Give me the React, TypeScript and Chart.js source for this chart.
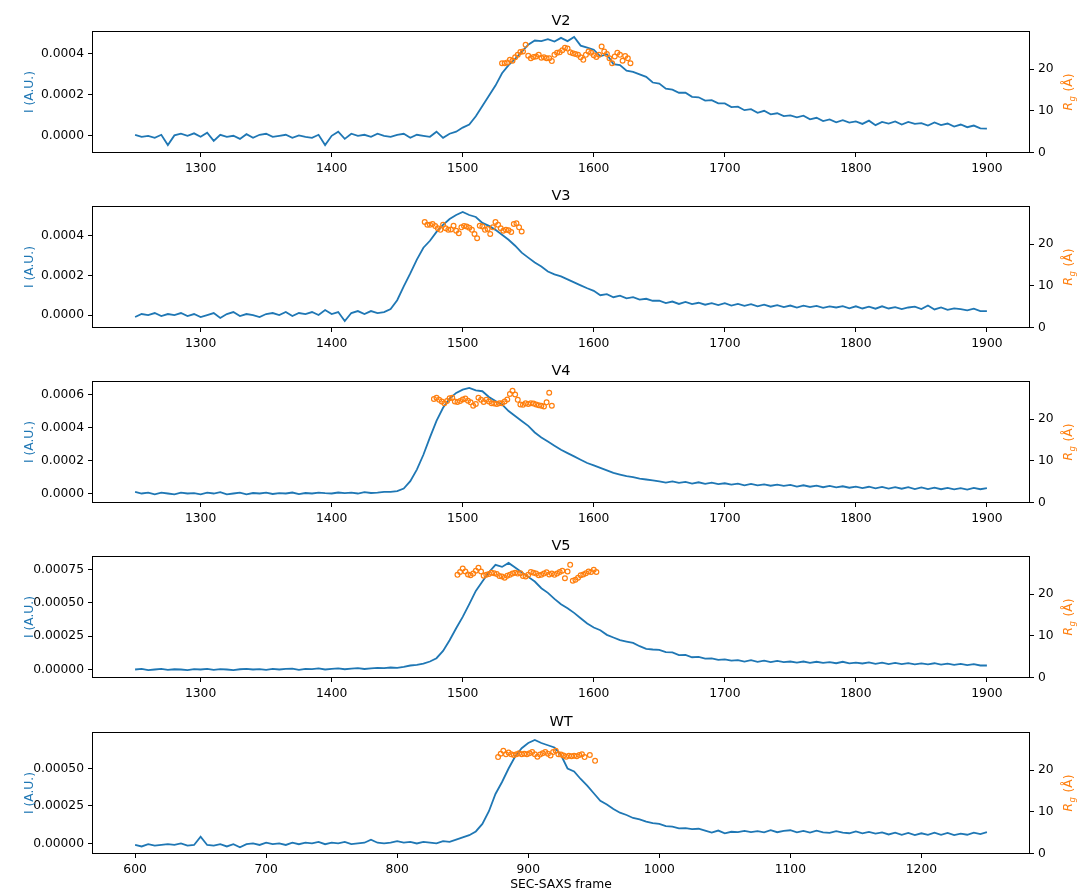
import React, { useEffect, useRef } from "react";
import { Chart, registerables } from "chart.js";

Chart.register(...registerables);

const BLUE = "#1f77b4";
const ORANGE = "#ff7f0e";
const FONT = "'DejaVu Sans', sans-serif";

// ---------- data (intensity in units of 1e-4 A.U., Rg in Å) ----------
const I_STEP = 5; // frames between intensity samples
const RG_STEP = 2; // frames between Rg samples

const v2Start = 1250;
const v2Intensity = [
  0.05, -0.05, 0.0, -0.1, 0.05, -0.45, 0.02, 0.1, 0.0, 0.12,
  -0.05, 0.15, -0.25, 0.05, -0.05, 0.0, -0.15, 0.08, -0.1, 0.05,
  0.1, -0.05, 0.0, 0.05, -0.1, 0.02, -0.05, -0.1, 0.05, -0.45,
  0.0, 0.2, -0.15, 0.1, 0.0, 0.05, -0.05, 0.1, 0.0, -0.05,
  0.05, 0.1, -0.1, 0.05, 0.0, -0.05, 0.2, -0.1, 0.1, 0.2,
  0.4, 0.55, 0.95, 1.45, 1.95, 2.45, 3.05, 3.45, 3.75, 4.1,
  4.45, 4.65, 4.62, 4.72, 4.6, 4.78, 4.62, 4.82, 4.4, 4.3,
  4.2, 3.88, 3.98, 3.5, 3.45, 3.18, 3.12, 3.0, 2.88, 2.6,
  2.55, 2.3, 2.25, 2.1, 2.1, 1.9, 1.88, 1.72, 1.74, 1.58,
  1.58, 1.4, 1.42, 1.25, 1.3, 1.12, 1.22, 1.05, 1.1, 0.96,
  1.0, 0.9, 0.98, 0.8, 0.88, 0.72, 0.8, 0.66, 0.76, 0.64,
  0.7, 0.58, 0.74, 0.52, 0.68, 0.6, 0.7, 0.55, 0.68, 0.58,
  0.62, 0.5, 0.65, 0.52, 0.6, 0.45, 0.55, 0.42, 0.5, 0.36,
  0.35,
];
const v2RgStart = 1530;
const v2Rg = [
  21.4, 21.4, 21.6, 22.2, 22.0, 22.8, 23.4, 24.1, 24.2, 25.8,
  23.2, 22.6, 22.9, 23.0, 23.4, 22.7, 22.8, 22.6, 22.6, 21.9,
  23.4, 23.9, 24.0, 24.5, 25.1, 24.9, 24.0, 23.8, 23.6, 23.4,
  22.8, 22.2, 23.4, 24.2, 23.9, 23.3, 22.9, 23.4, 25.4, 24.2,
  23.6, 22.6, 21.4, 23.0, 23.9, 23.4, 22.0, 23.1, 22.6, 21.4,
];

const v3Start = 1250;
const v3Intensity = [
  -0.1, 0.05, 0.0, 0.1, -0.05, 0.05, 0.0, 0.1, -0.05, 0.05,
  -0.1, 0.0, 0.1, -0.15, 0.05, 0.15, -0.05, 0.05, 0.0, -0.1,
  0.05, 0.1, 0.0, 0.15, -0.05, 0.1, 0.05, 0.15, 0.0, 0.25,
  0.05, 0.15, -0.3, 0.1, 0.2, 0.05, 0.2, 0.1, 0.15, 0.3,
  0.75, 1.45, 2.1, 2.8, 3.4, 3.75, 4.2, 4.55, 4.85, 5.05,
  5.2, 5.05, 4.95, 4.65, 4.5, 4.3, 4.05, 3.8, 3.5, 3.15,
  2.9, 2.65, 2.45, 2.2, 2.05, 1.95, 1.8, 1.65, 1.5, 1.35,
  1.22, 1.0, 1.05, 0.9, 0.98, 0.84, 0.9, 0.78, 0.82, 0.72,
  0.72, 0.6, 0.68, 0.56, 0.66, 0.55, 0.62, 0.52, 0.6, 0.5,
  0.6, 0.48, 0.56, 0.46, 0.55, 0.44, 0.52, 0.42, 0.5, 0.4,
  0.48, 0.38, 0.47, 0.4, 0.46, 0.36, 0.44, 0.38, 0.45, 0.34,
  0.44, 0.33, 0.42, 0.32, 0.44, 0.33, 0.4, 0.3, 0.38, 0.42,
  0.3, 0.48, 0.28, 0.38, 0.26, 0.34, 0.3, 0.24, 0.32, 0.2,
  0.2,
];
const v3RgStart = 1471;
const v3Rg = [
  25.3, 24.6, 24.6, 24.8, 24.3, 23.8, 23.4, 24.6, 23.8, 23.4,
  23.5, 24.4, 23.2, 22.6, 24.0, 24.3, 24.2, 23.9, 23.4, 22.4,
  21.4, 24.4, 24.2, 23.4, 23.6, 22.4, 24.0, 25.3, 24.6, 23.8,
  23.2, 23.4, 23.3, 22.9, 24.8, 25.0, 24.0, 23.0,
];

const v4Start = 1250;
const v4Intensity = [
  0.1, 0.0, 0.05, -0.05, 0.05, 0.0, -0.05, 0.05, 0.0, 0.02,
  -0.05, 0.05, 0.0, 0.08, -0.05, 0.0, 0.05, -0.05, 0.03, 0.0,
  0.05, -0.03, 0.02, 0.0, 0.06, -0.04, 0.03, 0.0, 0.05, 0.02,
  0.0, 0.06, 0.02, 0.05, 0.0, 0.08, 0.03, 0.05, 0.1, 0.1,
  0.15, 0.3, 0.75, 1.45, 2.35, 3.4, 4.4, 5.2, 5.75, 6.1,
  6.3, 6.4, 6.25, 6.2, 5.85, 5.6, 5.4, 5.0, 4.7, 4.4,
  4.1, 3.7, 3.4, 3.15, 2.9, 2.65, 2.45, 2.25, 2.05, 1.85,
  1.7, 1.55, 1.4, 1.25, 1.15, 1.05, 1.0, 0.9, 0.85, 0.8,
  0.74, 0.66, 0.74, 0.64, 0.7, 0.6, 0.68, 0.58, 0.66, 0.57,
  0.62, 0.54, 0.6, 0.5, 0.58, 0.49, 0.55, 0.47, 0.54, 0.46,
  0.52, 0.42, 0.5, 0.41, 0.48, 0.38, 0.46, 0.37, 0.44, 0.35,
  0.42, 0.33, 0.41, 0.31, 0.4, 0.3, 0.39, 0.29, 0.38, 0.27,
  0.37, 0.27, 0.36, 0.26, 0.34, 0.25, 0.33, 0.24, 0.34, 0.26,
  0.33,
];
const v4RgStart = 1478;
const v4Rg = [
  24.8, 25.1, 24.6, 24.2, 23.8, 24.3, 25.0, 25.1, 24.2, 24.1,
  24.3, 24.7, 24.9, 24.4, 24.0, 23.2, 23.6, 25.1, 24.6, 24.1,
  24.6, 24.2, 23.8, 23.7, 23.6, 23.8, 23.8, 24.2, 24.7, 26.0,
  26.8, 25.9, 24.6, 23.5, 23.4, 23.8, 23.6, 23.8, 23.7, 23.5,
  23.3, 23.2, 23.0, 24.0, 26.3, 23.2,
];

const v5Start = 1250;
const v5Intensity = [
  0.0, 0.05, -0.05, 0.0, 0.05, -0.03, 0.02, 0.0, -0.05, 0.03,
  0.0, 0.05, -0.02, 0.03, 0.0, -0.05, 0.02, 0.05, 0.0, 0.03,
  -0.02, 0.05, 0.0, 0.04, 0.06, -0.02, 0.05, 0.03, 0.08, 0.0,
  0.05, 0.08, 0.02, 0.06, 0.1, 0.04, 0.08, 0.12, 0.1, 0.15,
  0.12, 0.2, 0.3, 0.35, 0.45, 0.6, 0.85, 1.4, 2.2, 3.1,
  3.95, 4.9, 5.9, 6.6, 7.3, 7.85, 7.7, 8.0, 7.65, 7.3,
  6.95, 6.6, 6.1, 5.75, 5.3, 4.9, 4.6, 4.25, 3.85, 3.45,
  3.15, 2.95, 2.6, 2.4, 2.2, 2.1, 2.0, 1.75, 1.55, 1.5,
  1.48, 1.3, 1.28, 1.08, 1.1, 0.92, 0.95, 0.82, 0.84, 0.72,
  0.76, 0.66, 0.7, 0.6, 0.7, 0.58, 0.66, 0.56, 0.64, 0.55,
  0.6, 0.52, 0.6, 0.5, 0.58, 0.5, 0.56, 0.47, 0.58, 0.46,
  0.52, 0.45, 0.54, 0.42, 0.52, 0.4, 0.5, 0.4, 0.48, 0.38,
  0.46, 0.38, 0.47, 0.36, 0.44, 0.35, 0.42, 0.33, 0.4, 0.3,
  0.3,
];
const v5RgStart = 1496;
const v5Rg = [
  24.6, 25.3, 26.1, 25.4, 24.7, 24.5, 24.9, 25.6, 26.3, 25.4,
  24.4, 24.6, 24.8, 25.1, 25.0, 24.8, 24.3, 24.2, 23.9, 24.4,
  24.6, 24.9, 25.1, 24.9, 25.0, 24.3, 24.2, 24.6, 25.3, 25.1,
  24.9, 24.5, 24.6, 24.9, 25.2, 24.7, 24.9, 24.6, 24.9, 25.3,
  25.6, 23.8, 25.4, 27.0, 23.2, 23.4, 23.9, 24.5, 24.7, 25.0,
  25.4, 25.3, 25.8, 25.3,
];

const wtStart = 600;
const wtIntensity = [
  -0.1, -0.2, -0.05, -0.15, -0.1, -0.05, -0.1, 0.0, -0.15, -0.1,
  0.45, -0.1, -0.15, -0.05, -0.2, -0.05, -0.25, -0.05, 0.0, -0.1,
  0.05, -0.05, 0.0, -0.1, 0.05, -0.05, 0.05, 0.0, 0.1, -0.05,
  0.05, 0.0, 0.1, -0.05, 0.0, 0.05, 0.25, 0.05, 0.0, 0.05,
  0.15, 0.05, 0.1, 0.0, 0.1, 0.05, 0.0, 0.15, 0.1, 0.25,
  0.4, 0.55, 0.8, 1.3, 2.15, 3.3, 4.1, 5.0, 5.8, 6.35,
  6.7, 6.9, 6.7, 6.55, 6.4, 5.9, 5.0, 4.8, 4.3, 3.85,
  3.35, 2.85, 2.6, 2.3, 2.05, 1.9, 1.7, 1.6, 1.45, 1.35,
  1.3, 1.15, 1.12, 1.0, 1.02, 0.95, 0.98, 0.85, 0.72, 0.86,
  0.68, 0.78, 0.76, 0.84, 0.76, 0.82, 0.74, 0.88, 0.75, 0.84,
  0.88, 0.74, 0.84, 0.72, 0.85, 0.74, 0.7, 0.82, 0.72, 0.68,
  0.8, 0.68, 0.77, 0.66, 0.74, 0.6, 0.72, 0.58, 0.7, 0.56,
  0.68, 0.57, 0.72, 0.58, 0.7, 0.56, 0.66, 0.58, 0.72, 0.62,
  0.75,
];
const wtRgStart = 877;
const wtRg = [
  23.1, 23.9, 24.6, 23.8, 24.2, 23.8, 23.6, 23.8, 24.0, 23.8,
  23.9, 23.8, 24.0, 24.3, 23.8, 23.2, 23.7, 24.0, 24.3, 23.9,
  23.5, 24.3, 24.6, 23.8, 23.7, 23.5, 23.2, 23.4, 23.3, 23.4,
  23.3, 23.6, 23.8, 23.1, null, 23.6, null, 22.2,
];

// ---------- tick labels ----------
const framesTicksVariants = [1300, 1400, 1500, 1600, 1700, 1800, 1900];
const framesTicksWT = [600, 700, 800, 900, 1000, 1100, 1200];
const yTicksV2V3 = [0, 0.0002, 0.0004];
const yTicksV4 = [0, 0.0002, 0.0004, 0.0006];
const yTicksV5 = [0, 0.00025, 0.0005, 0.00075];
const yTicksWT = [0, 0.00025, 0.0005];
const rgTicks = [0, 10, 20];

type Panel = {
  title: string;
  iStart: number;
  intensity: number[];
  rgStart: number;
  rg: (number | null)[];
  xMin: number;
  xMax: number;
  xTicks: number[];
  yMin: number;
  yMax: number;
  yTicks: number[];
  yDecimals: number;
};

const panels: Panel[] = [
  { title: "V2", iStart: v2Start, intensity: v2Intensity, rgStart: v2RgStart, rg: v2Rg,
    xMin: 1217.5, xMax: 1932.5, xTicks: framesTicksVariants, yMin: -0.0000815, yMax: 0.000509, yTicks: yTicksV2V3, yDecimals: 4 },
  { title: "V3", iStart: v3Start, intensity: v3Intensity, rgStart: v3RgStart, rg: v3Rg,
    xMin: 1217.5, xMax: 1932.5, xTicks: framesTicksVariants, yMin: -0.000063, yMax: 0.000548, yTicks: yTicksV2V3, yDecimals: 4 },
  { title: "V4", iStart: v4Start, intensity: v4Intensity, rgStart: v4RgStart, rg: v4Rg,
    xMin: 1217.5, xMax: 1932.5, xTicks: framesTicksVariants, yMin: -0.0000545, yMax: 0.000679, yTicks: yTicksV4, yDecimals: 4 },
  { title: "V5", iStart: v5Start, intensity: v5Intensity, rgStart: v5RgStart, rg: v5Rg,
    xMin: 1217.5, xMax: 1932.5, xTicks: framesTicksVariants, yMin: -0.00006, yMax: 0.000848, yTicks: yTicksV5, yDecimals: 5 },
  { title: "WT", iStart: wtStart, intensity: wtIntensity, rgStart: wtRgStart, rg: wtRg,
    xMin: 567.5, xMax: 1282.5, xTicks: framesTicksWT, yMin: -0.000067, yMax: 0.00074, yTicks: yTicksWT, yDecimals: 5 },
];

const RG_MIN = 0;
const RG_MAX = 29;

const W = 1081;
const PAD_TOP = 31.5;
const AREA_H = 121;
const LEFT_W = 92.5;
const RIGHT_W = 51.5;
const canvasTops = [0, 175, 350, 525, 701];
const canvasHeights = [175, 175, 175, 175, 195];

function PanelChart({ p, index, last }: { p: Panel; index: number; last: boolean }) {
  const ref = useRef<HTMLCanvasElement | null>(null);
  const h = canvasHeights[index];
  useEffect(() => {
    if (!ref.current) return;
    const iPoints = p.intensity.map((v, i) => ({ x: p.iStart + i * I_STEP, y: v * 1e-4 }));
    const rgPoints = p.rg
      .map((v, i) => ({ x: p.rgStart + i * RG_STEP, y: v }))
      .filter((pt) => pt.y !== null);
    const font = { family: FONT, size: 12.3 };
    const labelsPlugin = {
      id: "panelLabels",
      afterDraw(chart: any) {
        const { ctx, chartArea: a } = chart;
        ctx.save();
        ctx.strokeStyle = "#000";
        ctx.lineWidth = 1;
        ctx.strokeRect(a.left, a.top, a.right - a.left, a.bottom - a.top);
        const cx = (a.left + a.right) / 2;
        const cy = (a.top + a.bottom) / 2;
        ctx.fillStyle = "#000";
        ctx.font = `14.5px ${FONT}`;
        ctx.textAlign = "center";
        ctx.textBaseline = "alphabetic";
        ctx.fillText(p.title, cx, a.top - 7);
        // left axis label
        ctx.save();
        ctx.translate(28.5, cy);
        ctx.rotate(-Math.PI / 2);
        ctx.fillStyle = BLUE;
        ctx.font = `12.3px ${FONT}`;
        ctx.textAlign = "center";
        ctx.textBaseline = "alphabetic";
        ctx.fillText("I (A.U.)", 0, 4.5);
        ctx.restore();
        // right axis label: R_g (Å)
        ctx.save();
        ctx.translate(1067, cy);
        ctx.rotate(-Math.PI / 2);
        ctx.fillStyle = ORANGE;
        ctx.textBaseline = "alphabetic";
        ctx.textAlign = "left";
        const fMain = `italic 12.3px ${FONT}`;
        const fSub = `italic 8.6px ${FONT}`;
        const fRest = `12.3px ${FONT}`;
        ctx.font = fMain;
        const wR = ctx.measureText("R").width;
        ctx.font = fSub;
        const wg = ctx.measureText("g").width;
        ctx.font = fRest;
        const rest = " (Å)";
        const wRest = ctx.measureText(rest).width;
        const total = wR + wg + wRest + 1;
        let u = -total / 2;
        ctx.font = fMain;
        ctx.fillText("R", u, 4.5);
        u += wR + 0.5;
        ctx.font = fSub;
        ctx.fillText("g", u, 7.5);
        u += wg + 0.5;
        ctx.font = fRest;
        ctx.fillText(rest, u, 4.5);
        ctx.restore();
        if (last) {
          ctx.fillStyle = "#000";
          ctx.font = `12.3px ${FONT}`;
          ctx.textAlign = "center";
          ctx.textBaseline = "middle";
          ctx.fillText("SEC-SAXS frame", cx, 184);
        }
        ctx.restore();
      },
    };
    const tickGrid = { display: true, drawOnChartArea: false, drawTicks: true, tickLength: 4.5, color: "#000", lineWidth: 1 };
    const chart = new Chart(ref.current, {
      type: "line",
      data: {
        datasets: [
          {
            label: "Rg",
            data: rgPoints as any,
            yAxisID: "yR",
            xAxisID: "x",
            showLine: false,
            pointRadius: 2.4,
            pointBorderWidth: 1.2,
            pointBorderColor: ORANGE,
            pointBackgroundColor: "rgba(255,255,255,0)",
            borderColor: ORANGE,
            backgroundColor: "rgba(0,0,0,0)",
            order: 0,
          },
          {
            label: "I",
            data: iPoints as any,
            yAxisID: "y",
            xAxisID: "x",
            borderColor: BLUE,
            borderWidth: 1.8,
            pointRadius: 0,
            tension: 0,
            fill: false,
            order: 1,
          },
        ],
      },
      options: {
        responsive: false,
        animation: false,
        devicePixelRatio: 1,
        events: [],
        layout: { padding: { top: PAD_TOP, left: 0, right: 0, bottom: 0 } },
        plugins: { legend: { display: false }, tooltip: { enabled: false }, title: { display: false } },
        scales: {
          x: {
            type: "linear",
            position: "bottom",
            min: p.xMin,
            max: p.xMax,
            afterBuildTicks: (s: any) => {
              s.ticks = p.xTicks.map((v) => ({ value: v }));
            },
            afterFit: (s: any) => {
              s.height = h - PAD_TOP - AREA_H;
            },
            ticks: { callback: (v: any) => String(v), font, color: "#000", padding: 4, maxRotation: 0, autoSkip: false },
            grid: tickGrid,
            border: { display: false },
          },
          y: {
            type: "linear",
            position: "left",
            min: p.yMin,
            max: p.yMax,
            afterBuildTicks: (s: any) => {
              s.ticks = p.yTicks.map((v) => ({ value: v }));
            },
            afterFit: (s: any) => {
              s.width = LEFT_W;
            },
            ticks: { callback: (v: any) => Number(v).toFixed(p.yDecimals), font, color: "#000", padding: 4, autoSkip: false },
            grid: tickGrid,
            border: { display: false },
          },
          yR: {
            type: "linear",
            position: "right",
            min: RG_MIN,
            max: RG_MAX,
            afterBuildTicks: (s: any) => {
              s.ticks = rgTicks.map((v) => ({ value: v }));
            },
            afterFit: (s: any) => {
              s.width = RIGHT_W;
            },
            ticks: { callback: (v: any) => String(v), font, color: "#000", padding: 4, autoSkip: false },
            grid: tickGrid,
            border: { display: false },
          },
        },
      } as any,
      plugins: [labelsPlugin],
    });
    return () => chart.destroy();
  }, [p, index, last, h]);
  return (
    <div style={{ position: "absolute", left: 0, top: canvasTops[index], width: W, height: h }}>
      <canvas ref={ref} width={W} height={h} style={{ width: W, height: h, display: "block" }} />
    </div>
  );
}

export default function App() {
  return (
    <div style={{ position: "absolute", left: 0, top: 0, width: W, height: 896, background: "#fff", overflow: "hidden" }}>
      {panels.map((p, i) => (
        <PanelChart key={p.title} p={p} index={i} last={i === panels.length - 1} />
      ))}
    </div>
  );
}
